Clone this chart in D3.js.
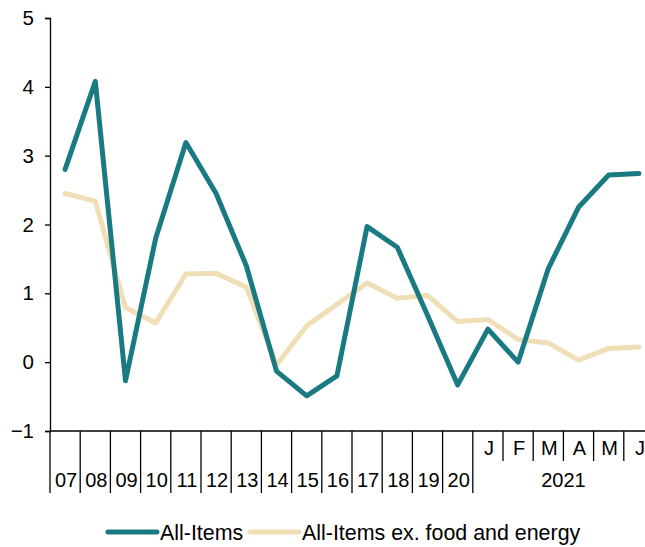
<!DOCTYPE html>
<html>
<head>
<meta charset="utf-8">
<script src="https://cdn.jsdelivr.net/npm/d3@7"></script>
<style>
  body { margin: 0; background: #fff; }
  svg { font-family: "Liberation Sans", Arial, sans-serif; }
</style>
</head>
<body>
<div id="chart"></div>
<script>
// categories on the x axis (years, then months of 2021)
const categories = ['07','08','09','10','11','12','13','14','15','16','17','18','19','20',
                    'J1','F','M1','A','M2','J2'];
const tickLabels = ['07','08','09','10','11','12','13','14','15','16','17','18','19','20',
                    'J','F','M','A','M','J'];
const yearGroupLabel = '2021';
const monthCount = 6;

const allItems = [2.8, 4.08, -0.27, 1.8, 3.19, 2.45, 1.4, -0.13, -0.49, -0.2,
                  1.97, 1.67, 0.68, -0.33, 0.48, 0.0, 1.36, 2.25, 2.72, 2.74];
const exFoodEnergy = [2.45, 2.34, 0.79, 0.57, 1.28, 1.29, 1.09, -0.04, 0.53, 0.84,
                      1.15, 0.93, 0.97, 0.59, 0.62, 0.33, 0.28, 0.03, 0.2, 0.22];

const yTicks = [-1, 0, 1, 2, 3, 4, 5];

const svgWidth = 645;
const svgHeight = 547;

const teal = '#1a7a82';
const beige = '#f0dfb6';

const svg = d3.select('#chart')
    .append('svg')
    .attr('width', svgWidth)
    .attr('height', svgHeight);

const x = d3.scaleBand()
    .domain(categories)
    .range([50, 654]);

const y = d3.scaleLinear()
    .domain([-1, 5])
    .range([431, 18]);

// y axis
const yAxis = d3.axisLeft(y)
    .tickValues(yTicks)
    .tickSize(5)
    .tickFormat(d3.format('d'));

const yg = svg.append('g')
    .attr('transform', 'translate(50,0)')
    .call(yAxis);
yg.select('.domain').attr('stroke', '#000').attr('stroke-width', 1.3);
yg.selectAll('.tick line').attr('stroke', '#000').attr('stroke-width', 1.3);
yg.selectAll('.tick text')
    .attr('x', -16)
    .attr('font-size', 20.5)
    .attr('fill', '#000')
    .attr('font-family', '"Liberation Sans", Arial, sans-serif');

// x axis base line
svg.append('line')
    .attr('x1', 50).attr('x2', svgWidth)
    .attr('y1', y(-1)).attr('y2', y(-1))
    .attr('stroke', '#000').attr('stroke-width', 1.3);

// separators between categories
const firstMonth = categories.length - monthCount;
categories.forEach((c, i) => {
    const isLong = i <= firstMonth;
    svg.append('line')
        .attr('x1', x(c)).attr('x2', x(c))
        .attr('y1', y(-1)).attr('y2', isLong ? 493 : 461)
        .attr('stroke', '#000').attr('stroke-width', 1.3);
});

// category labels
categories.forEach((c, i) => {
    const isMonth = i >= firstMonth;
    svg.append('text')
        .attr('x', x(c) + x.bandwidth() / 2 + 1)
        .attr('y', isMonth ? 455 : 487)
        .attr('text-anchor', 'middle')
        .attr('font-size', 20)
        .text(tickLabels[i]);
});

// year label under the months
const monthStart = x(categories[firstMonth]);
const monthEnd = x(categories[categories.length - 1]) + x.bandwidth();
svg.append('text')
    .attr('x', (monthStart + monthEnd) / 2)
    .attr('y', 487)
    .attr('text-anchor', 'middle')
    .attr('font-size', 20)
    .text(yearGroupLabel);

// lines
const line = d3.line()
    .x((d, i) => x(categories[i]) + x.bandwidth() / 2)
    .y(d => y(d));

svg.append('path')
    .attr('d', line(exFoodEnergy))
    .attr('fill', 'none')
    .attr('stroke', beige)
    .attr('stroke-width', 5)
    .attr('stroke-linejoin', 'round')
    .attr('stroke-linecap', 'round');

svg.append('path')
    .attr('d', line(allItems))
    .attr('fill', 'none')
    .attr('stroke', teal)
    .attr('stroke-width', 5)
    .attr('stroke-linejoin', 'round')
    .attr('stroke-linecap', 'round');

// legend
const legendItems = [
    { label: 'All-Items', color: teal, x: 108 },
    { label: 'All-Items ex. food and energy', color: beige, x: 250 }
];
const legendY = 532;
legendItems.forEach(item => {
    svg.append('line')
        .attr('x1', item.x).attr('x2', item.x + 49)
        .attr('y1', legendY).attr('y2', legendY)
        .attr('stroke', item.color)
        .attr('stroke-width', 5)
        .attr('stroke-linecap', 'round');
    svg.append('text')
        .attr('x', item.x + 52)
        .attr('y', legendY + 7.5)
        .attr('font-size', 21.4)
        .text(item.label);
});
</script>
</body>
</html>
